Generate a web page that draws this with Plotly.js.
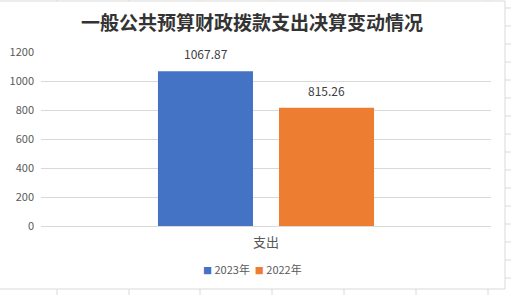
<!DOCTYPE html>
<html>
<head>
<meta charset="utf-8">
<script src="https://cdn.plot.ly/plotly-3.0.1.min.js"></script>
<style>html,body{margin:0;padding:0;background:#fff;}#chart{width:511px;height:295px;}</style>
</head>
<body>
<div id="chart"></div>
<script>
const categories = ["支出"];
const seriesNames = ["2023年", "2022年"];
const values2023 = [1067.87];
const values2022 = [815.26];
const yTicks = [0, 200, 400, 600, 800, 1000, 1200];
const colors = ["#4472C4", "#ED7D31"];

// plot area geometry (px)
const L = 41, R = 491, T = 52, B = 226, W = 511, H = 295;
const px = v => (v - L) / (R - L);
const py = v => (B - v) / (B - T);

const shapes = [];
const gridc = "#D9D9D9";
// chart-area border
shapes.push({type:"rect", xref:"paper", yref:"paper", x0:px(-2), x1:px(505), y0:py(289), y1:py(1), line:{color:gridc, width:1}, fillcolor:"rgba(0,0,0,0)", layer:"below"});
// spreadsheet cell lines outside the chart area
[57,129,200,272,344,416,488].forEach(x => {
  shapes.push({type:"line", xref:"paper", yref:"paper", x0:px(x), x1:px(x), y0:py(289), y1:py(296), line:{color:gridc,width:1}});
  shapes.push({type:"line", xref:"paper", yref:"paper", x0:px(x), x1:px(x), y0:py(-1), y1:py(1), line:{color:gridc,width:1}});
});
for (let y = 8; y < 295; y += 18) {
  shapes.push({type:"line", xref:"paper", yref:"paper", x0:px(505), x1:px(512), y0:py(y), y1:py(y), line:{color:gridc,width:1}});
}

const seriesVals = [values2023, values2022];
const traces = seriesVals.map((vals, i) => ({
  type: "bar",
  name: seriesNames[i],
  x: categories,
  y: vals,
  marker: {color: colors[i]},
  hoverinfo: "skip",
  showlegend: false
}));

const font = "Noto Sans CJK SC, sans-serif";
const barShift = 60.5;
const annotations = [];
seriesVals.forEach((vals, i) => {
  vals.forEach((v, j) => {
    annotations.push({
      x: categories[j], y: v, xref: "x", yref: "y",
      text: v.toFixed(2), showarrow: false,
      xshift: (i === 0 ? -1 : 1) * barShift, yanchor: "bottom", yshift: 7,
      font: {family: font, size: 12, color: "#404040"}
    });
  });
});
// compact legend, as in the reference
annotations.push({
  xref: "paper", yref: "paper", x: px(252), y: py(269), xanchor: "center", yanchor: "middle",
  showarrow: false,
  text: seriesNames.map((n, i) => `<span style="color:${colors[i]};font-size:9px">■</span> ${n}`).join("  "),
  font: {family: font, size: 11, color: "#595959"}
});

const layout = {
  width: W, height: H,
  margin: {l: L, r: W - R, t: T, b: H - B, pad: 0},
  paper_bgcolor: "#fff", plot_bgcolor: "#fff",
  title: {text: "一般公共预算财政拨款支出决算变动情况", x: 0.493, xanchor: "center", y: 1 - 23/295, yanchor: "middle", yref: "container",
          font: {family: font, size: 19, color: "#333333", weight: 700}},
  barmode: "group",
  bargap: 0.462,
  bargroupgap: 0.215,
  showlegend: false,
  xaxis: {type: "category", showgrid: false, showline: false, zeroline: false, ticks: "", ticklabelstandoff: 7,
          tickfont: {family: font, size: 13, color: "#595959"}, fixedrange: true},
  yaxis: {range: [0, 1200], tickvals: yTicks, ticktext: yTicks.map(String), showgrid: true, gridcolor: gridc,
          zeroline: true, zerolinecolor: gridc, zerolinewidth: 1, showline: false, ticks: "", ticklabelstandoff: 6,
          tickfont: {family: font, size: 11, color: "#595959"}, fixedrange: true},
  shapes: shapes,
  annotations: annotations
};

Plotly.newPlot("chart", traces, layout, {displayModeBar: false, staticPlot: true});
</script>
</body>
</html>
